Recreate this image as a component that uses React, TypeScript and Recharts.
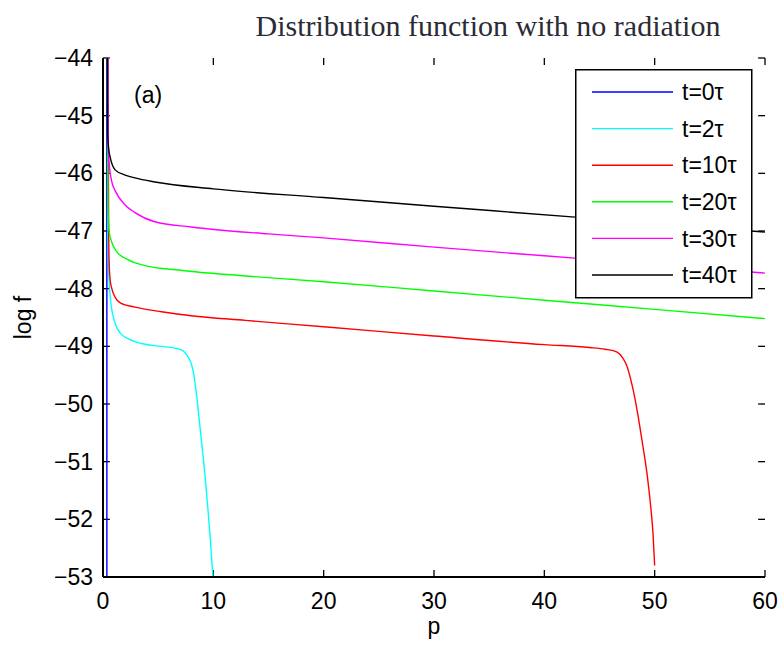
import React from 'react';
import { LineChart, Line, XAxis, YAxis, ReferenceLine } from 'recharts';

const xTicks = [0, 10, 20, 30, 40, 50, 60];
const yTicks = [-53, -52, -51, -50, -49, -48, -47, -46, -45, -44];

const t0 = [
  { p: 0.35, v: -40 },
  { p: 0.35, v: -60 },
];
const t2 = [
  { p: 0.42, v: -43 }, { p: 0.45, v: -47.0 }, { p: 0.5, v: -47.6 }, { p: 0.6, v: -48.0 },
  { p: 0.75, v: -48.3 }, { p: 1.1, v: -48.6 }, { p: 1.6, v: -48.78 }, { p: 2.3, v: -48.87 },
  { p: 3.5, v: -48.95 }, { p: 5.3, v: -49.0 }, { p: 6.5, v: -49.03 }, { p: 7.2, v: -49.07 },
  { p: 7.7, v: -49.18 }, { p: 8.0, v: -49.3 }, { p: 8.2, v: -49.46 }, { p: 8.4, v: -49.72 },
  { p: 8.6, v: -50.05 }, { p: 8.9, v: -50.6 }, { p: 9.25, v: -51.25 }, { p: 9.5, v: -51.8 },
  { p: 9.75, v: -52.4 }, { p: 10.0, v: -53.1 },
];
const t10 = [
  { p: 0.45, v: -43 }, { p: 0.5, v: -46.5 }, { p: 0.55, v: -47.5 }, { p: 0.65, v: -47.85 },
  { p: 0.8, v: -48.0 }, { p: 1.1, v: -48.15 }, { p: 1.6, v: -48.25 }, { p: 2.9, v: -48.32 },
  { p: 5.3, v: -48.4 }, { p: 8, v: -48.47 }, { p: 12.9, v: -48.55 }, { p: 20, v: -48.66 },
  { p: 30, v: -48.82 }, { p: 40, v: -48.97 }, { p: 44.1, v: -49.02 }, { p: 45.5, v: -49.05 },
  { p: 46.6, v: -49.1 }, { p: 47.1, v: -49.2 }, { p: 47.5, v: -49.35 }, { p: 47.8, v: -49.55 },
  { p: 48.1, v: -49.8 }, { p: 48.4, v: -50.1 }, { p: 48.95, v: -50.75 }, { p: 49.3, v: -51.2 },
  { p: 49.6, v: -51.7 }, { p: 49.85, v: -52.25 }, { p: 50.0, v: -52.8 },
];
const t20 = [
  { p: 0.4, v: -43 }, { p: 0.45, v: -46.5 }, { p: 0.55, v: -47.0 }, { p: 0.8, v: -47.2 },
  { p: 1.2, v: -47.35 }, { p: 2.3, v: -47.5 }, { p: 3.8, v: -47.6 }, { p: 7, v: -47.68 },
  { p: 12.9, v: -47.78 }, { p: 20, v: -47.88 }, { p: 30, v: -48.04 }, { p: 40, v: -48.2 },
  { p: 50, v: -48.36 }, { p: 60, v: -48.52 },
];
const t30 = [
  { p: 0.4, v: -43 }, { p: 0.45, v: -45.3 }, { p: 0.55, v: -45.8 }, { p: 0.8, v: -46.15 },
  { p: 1.1, v: -46.3 }, { p: 2.0, v: -46.55 }, { p: 2.9, v: -46.68 }, { p: 4.7, v: -46.84 },
  { p: 8, v: -46.93 }, { p: 15, v: -47.05 }, { p: 20, v: -47.12 }, { p: 30, v: -47.28 },
  { p: 40, v: -47.43 }, { p: 50, v: -47.58 }, { p: 60, v: -47.73 },
];
const t40 = [
  { p: 0.38, v: -43 }, { p: 0.42, v: -45.3 }, { p: 0.5, v: -45.55 }, { p: 0.65, v: -45.72 },
  { p: 1.1, v: -45.94 }, { p: 2.0, v: -46.03 }, { p: 2.9, v: -46.08 }, { p: 4.7, v: -46.15 },
  { p: 10, v: -46.27 }, { p: 20, v: -46.42 }, { p: 30, v: -46.57 }, { p: 42.8, v: -46.76 },
  { p: 50, v: -46.87 }, { p: 60, v: -47.02 },
];

const series = [
  { name: 't=0τ', data: t0, color: '#0000ff', type: 'linear' },
  { name: 't=2τ', data: t2, color: '#00ffff', type: 'monotone' },
  { name: 't=10τ', data: t10, color: '#ff0000', type: 'monotone' },
  { name: 't=20τ', data: t20, color: '#00ff00', type: 'monotone' },
  { name: 't=30τ', data: t30, color: '#ff00ff', type: 'monotone' },
  { name: 't=40τ', data: t40, color: '#000000', type: 'monotone' },
];

const X_MIN = 0, X_MAX = 60, Y_MIN = -53, Y_MAX = -44;
// inward tick length expressed in axis units (~7px)
const TICK_DX = 0.62;
const TICK_DY = 0.12;

const FONT = '"Liberation Sans", Arial, Helvetica, sans-serif';
const fmtY = (v: number) => (v < 0 ? '\u2212' + Math.abs(v) : String(v));

export default function App() {
  const tickStyle = { stroke: '#000', strokeWidth: 1.3 };
  return (
    <div style={{ position: 'absolute', left: 0, top: 0, width: 780, height: 646, background: '#fff' }}>
      <LineChart width={780} height={646} margin={{ top: 58, right: 15, bottom: 0, left: 0 }}>
        <XAxis
          xAxisId="b"
          type="number"
          dataKey="p"
          domain={[X_MIN, X_MAX]}
          ticks={xTicks}
          allowDataOverflow
          height={69}
          tickSize={0}
          tickMargin={16}
          axisLine={{ stroke: '#000', strokeWidth: 2 }}
          tickLine={false}
          tick={{ fill: '#000', fontSize: 23, fontFamily: FONT }}
          label={{ value: 'p', position: 'insideBottom', offset: 12, fill: '#000', fontSize: 23, fontFamily: FONT }}
        />
        <XAxis
          xAxisId="t"
          orientation="top"
          type="number"
          domain={[X_MIN, X_MAX]}
          ticks={xTicks}
          allowDataOverflow
          height={0}
          tickLine={false}
          tick={false}
          axisLine={{ stroke: '#000', strokeWidth: 2 }}
        />
        <YAxis
          yAxisId="l"
          type="number"
          domain={[Y_MIN, Y_MAX]}
          ticks={yTicks}
          allowDataOverflow
          width={103}
          tickSize={0}
          tickMargin={10}
          tickFormatter={fmtY}
          axisLine={{ stroke: '#000', strokeWidth: 2 }}
          tickLine={false}
          tick={{ fill: '#000', fontSize: 23, fontFamily: FONT }}
          label={{
            content: (props: any) => {
              const vb = props.viewBox || { x: 0, y: 58, width: 103, height: 519 };
              const cx = vb.x + 23;
              const cy = vb.y + vb.height / 2;
              return (
                <text x={cx} y={cy} transform={`rotate(-90 ${cx} ${cy})`} textAnchor="middle" dominantBaseline="central" fill="#000" fontSize={23} fontFamily={FONT}>
                  log f
                </text>
              );
            },
          }}
        />
        <YAxis
          yAxisId="r"
          orientation="right"
          type="number"
          domain={[Y_MIN, Y_MAX]}
          ticks={yTicks}
          allowDataOverflow
          width={0}
          tickLine={false}
          tick={false}
          axisLine={{ stroke: '#000', strokeWidth: 2 }}
        />
        {xTicks.map((t) => (
          <ReferenceLine
            key={'xb' + t}
            xAxisId="b"
            yAxisId="l"
            ifOverflow="visible"
            segment={[{ x: t, y: Y_MIN }, { x: t, y: Y_MIN + TICK_DY }]}
            {...tickStyle}
          />
        ))}
        {xTicks.map((t) => (
          <ReferenceLine
            key={'xt' + t}
            xAxisId="b"
            yAxisId="l"
            ifOverflow="visible"
            segment={[{ x: t, y: Y_MAX }, { x: t, y: Y_MAX - TICK_DY }]}
            {...tickStyle}
          />
        ))}
        {yTicks.map((t) => (
          <ReferenceLine
            key={'yl' + t}
            xAxisId="b"
            yAxisId="l"
            ifOverflow="visible"
            segment={[{ x: X_MIN, y: t }, { x: X_MIN + TICK_DX, y: t }]}
            {...tickStyle}
          />
        ))}
        {yTicks.map((t) => (
          <ReferenceLine
            key={'yr' + t}
            xAxisId="b"
            yAxisId="l"
            ifOverflow="visible"
            segment={[{ x: X_MAX, y: t }, { x: X_MAX - TICK_DX, y: t }]}
            {...tickStyle}
          />
        ))}
        {series.map((s) => (
          <Line
            key={s.name}
            xAxisId="b"
            yAxisId="l"
            data={s.data}
            dataKey="v"
            name={s.name}
            type={s.type as any}
            stroke={s.color}
            strokeWidth={1.4}
            dot={false}
            activeDot={false}
            isAnimationActive={false}
          />
        ))}
      </LineChart>
      <div
        style={{
          position: 'absolute', left: 208, width: 560, top: 6, textAlign: 'center',
          fontFamily: '"Liberation Serif", "Times New Roman", serif', fontSize: 30, color: '#2b2b35', lineHeight: '40px', whiteSpace: 'nowrap',
        }}
      >
        Distribution function with no radiation
      </div>
      <div style={{ position: 'absolute', left: 134, top: 81, fontFamily: FONT, fontSize: 23, color: '#000', lineHeight: '28px' }}>(a)</div>
      <svg style={{ position: 'absolute', left: 575, top: 69 }} width={178} height={230}>
        <rect x={0.75} y={0.75} width={176} height={228} fill="#fff" stroke="#000" strokeWidth={1.5} />
        {series.map((s, i) => {
          const cy = 23 + i * 36.6;
          return (
            <g key={s.name}>
              <line x1={17} x2={98} y1={cy} y2={cy} stroke={s.color} strokeWidth={1.4} />
              <text x={107} y={cy} dy="0.36em" fill="#000" fontSize={23} fontFamily={FONT}>
                {s.name}
              </text>
            </g>
          );
        })}
      </svg>
    </div>
  );
}
